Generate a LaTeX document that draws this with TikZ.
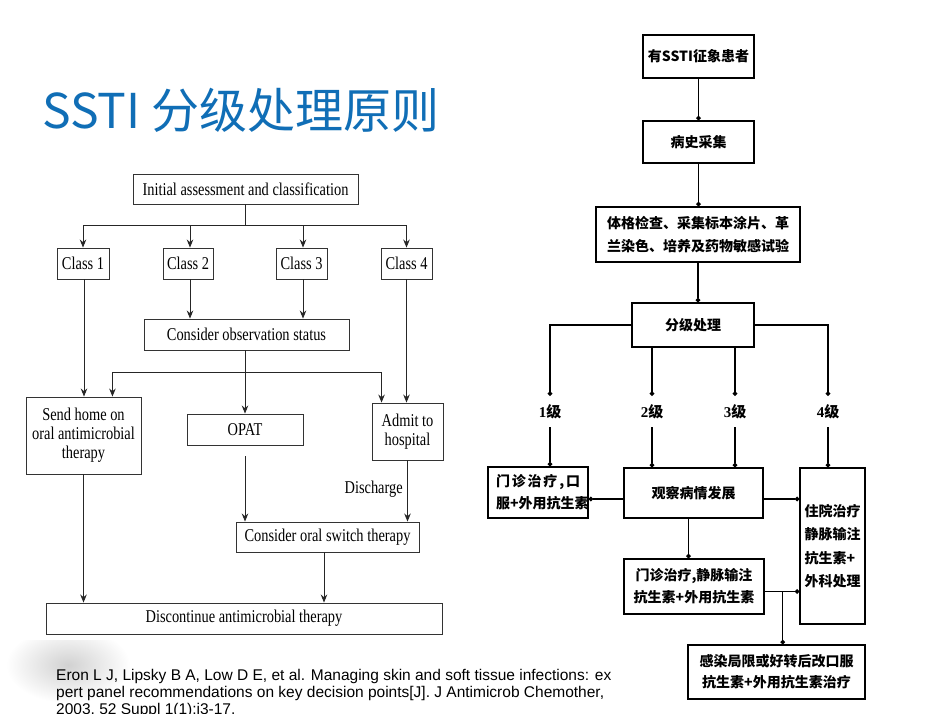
\documentclass[tikz,border=0pt]{standalone}
\usepackage{fontspec}
\setmainfont{Liberation Serif}
\newfontfamily\cjk{Noto Sans CJK SC}
\newfontfamily\cond{Liberation Serif}[FakeStretch=0.8]
\newfontfamily\arial{Liberation Sans}
\usetikzlibrary{arrows.meta}
\definecolor{titleblue}{RGB}{16,110,182}
\tikzset{
  lbox/.style={draw=black!80, line width=0.9pt, inner sep=0pt, align=center,
    font=\cond\fontsize{18}{19}\selectfont},
  rbox/.style={draw=black, line width=1.4pt, inner sep=0pt, align=center,
    font=\cjk\bfseries\fontsize{14}{23}\selectfont},
  larr/.style={draw=black!85, line width=0.9pt, -{Stealth[length=8pt,width=6.5pt]}},
  rarr/.style={draw=black, line width=1.3pt, -{Circle[length=4.5pt]}},
  lvl/.style={inner sep=0pt, minimum height=31pt, font=\bfseries\fontsize{15}{15}\selectfont},
  citetext/.style={anchor=base west, inner sep=0pt, font=\arial\fontsize{15.5}{17}\selectfont}
}
\begin{document}
\begin{tikzpicture}[x=1pt,y=-1pt]
\useasboundingbox (0,0) rectangle (950,713);
\fill[white] (0,0) rectangle (950,713);
\begin{scope}
\clip (0,640) rectangle (130,713);
\shade[inner color=black!18, outer color=white] (68,665) ellipse (62 and 38);
\end{scope}

% title
\node[anchor=base west, inner sep=0pt, text=titleblue, font=\cjk\fontsize{48}{48}\selectfont] (title) at (42,128) {SSTI 分级处理原则};

% ---------- left flowchart ----------
\node[lbox, minimum width=225, minimum height=30] (init) at (245.5,189) {Initial assessment and classification};
\node[lbox, minimum width=52, minimum height=31] (c1) at (83,263.5) {Class 1};
\node[lbox, minimum width=50, minimum height=31] (c2) at (188,263.5) {Class 2};
\node[lbox, minimum width=51, minimum height=31] (c3) at (301.5,263.5) {Class 3};
\node[lbox, minimum width=51, minimum height=31] (c4) at (406.5,263.5) {Class 4};
\node[lbox, minimum width=205, minimum height=31] (obs) at (246.5,334.5) {Consider observation status};
\node[lbox, minimum width=115, minimum height=77] (send) at (83.5,435.5) {Send home on\\oral antimicrobial\\therapy};
\node[lbox, minimum width=116, minimum height=31] (opat) at (245,429.5) {OPAT};
\node[lbox, minimum width=71, minimum height=57] (admit) at (407.5,431.5) {Admit to\\hospital};
\node[lbox, minimum width=183, minimum height=30] (oral) at (327.5,537) {Consider oral switch therapy};
\node[lbox, minimum width=396, minimum height=31] (disc) at (244,618.5) {Discontinue antimicrobial therapy};

\draw[larr] (init.south) -- ++(0,21) -| (c1.north);
\draw[larr] (init.south) -- ++(0,21) -| ([xshift=2pt]c2.north);
\draw[larr] (init.south) -- ++(0,21) -| ([xshift=1.5pt]c3.north);
\draw[larr] (init.south) -- ++(0,21) -| (c4.north);
\draw[larr] ([xshift=1pt]c1.south) -- ([xshift=1pt]c1.south |- send.north);
\draw[larr] ([xshift=2pt]c2.south) -- ([xshift=2pt]c2.south |- obs.north);
\draw[larr] ([xshift=1.5pt]c3.south) -- ([xshift=1.5pt]c3.south |- obs.north);
\draw[larr] (c4.south) -- (c4.south |- admit.north);
\draw[larr] ([xshift=-1.5pt]obs.south) -- ([xshift=-1.5pt]obs.south |- opat.north);
\draw[larr] ([xshift=-1.5pt]obs.south) -- ++(0,22) -| ([xshift=-29pt]send.north east);
\draw[larr] ([xshift=-1.5pt]obs.south) -- ++(0,22) -| ([xshift=10pt]admit.north west);
\draw[larr] (admit.south) -- node[pos=0.47, left=1pt, font=\cond\fontsize{18}{19}\selectfont] (dis) {Discharge} (admit.south |- oral.north);
\draw[larr, shorten <=11pt] (opat.south) -- (opat.south |- oral.north);
\draw[larr] ([xshift=-3.5pt]oral.south) -- ([xshift=-3.5pt]oral.south |- disc.north);
\draw[larr] (send.south) -- (send.south |- disc.north);

% ---------- right flowchart ----------
\node[rbox, minimum width=111, minimum height=43] (b1) at (698.5,56.5) {有SSTI征象患者};
\node[rbox, minimum width=111, minimum height=42] (b2) at (698.5,142) {病史采集};
\node[rbox, minimum width=204, minimum height=55] (b3) at (698,234.5) {体格检查、采集标本涂片、革\\兰染色、培养及药物敏感试验};
\node[rbox, minimum width=122, minimum height=44] (b4) at (693,325) {分级处理};

\node[lvl] (l1) at (550,411.5) {1\cjk 级};
\node[lvl] (l2) at (652,411.5) {2\cjk 级};
\node[lvl] (l3) at (735,411.5) {3\cjk 级};
\node[lvl] (l4) at (828,411.5) {4\cjk 级};

\node[rbox, minimum width=100, minimum height=51, font=\cjk\bfseries\fontsize{14}{22}\selectfont] (g1) at (538,492.5)
  {\makebox[84pt][s]{门\hfil 诊\hfil 治\hfil 疗\hfil ,\hfil 口}\\\makebox[84pt][s]{服+外用抗生素}};
\node[rbox, minimum width=139, minimum height=50] (obs2) at (693.5,493) {观察病情发展};
\node[rbox, minimum width=65, minimum height=156, align=left, font=\cjk\bfseries\fontsize{14}{23.5}\selectfont] (g4) at (832.5,546) {住院治疗\\静脉输注\\抗生素+\\外科处理};
\node[rbox, minimum width=140, minimum height=55, font=\cjk\bfseries\fontsize{14}{22}\selectfont] (b5) at (694,586.5) {门诊治疗,静脉输注\\抗生素+外用抗生素};
\node[rbox, minimum width=177, minimum height=54, font=\cjk\bfseries\fontsize{14}{21}\selectfont] (b6) at (776.5,672) {感染局限或好转后改口服\\抗生素+外用抗生素治疗};

\draw[rarr] (b1.south) -- (b2.north);
\draw[rarr] (b2.south) -- (b2.south |- b3.north);
\draw[rarr] (b3.south) -- (b3.south |- b4.north);
\draw[rarr] (b4.west) -| (l1.north);
\draw[rarr] (l2.north |- b4.south) -- (l2.north);
\draw[rarr] (l3.north |- b4.south) -- (l3.north);
\draw[rarr] (b4.east) -| (l4.north);
\draw[rarr] (l1.south) -- (l1.south |- g1.north);
\draw[rarr] (l2.south) -- (l2.south |- obs2.north);
\draw[rarr] (l3.south) -- (l3.south |- obs2.north);
\draw[rarr] (l4.south) -- (l4.south |- g4.north);
\draw[rarr] ([yshift=-6pt]obs2.west) -- ([yshift=-6pt]obs2.west -| g1.east);
\draw[rarr] ([yshift=-6pt]obs2.east) -- ([yshift=-6pt]obs2.east -| g4.west);
\draw[rarr] ([xshift=-5pt]obs2.south) -- ([xshift=-5pt]obs2.south |- b5.north);
\draw[rarr] ([yshift=-5pt]b5.east) -- ([yshift=-5pt]b5.east -| g4.west);
\draw[rarr] ([xshift=18pt,yshift=-5pt]b5.east) -- ([xshift=18pt]b5.east |- b6.north);

% citation
\node[citetext] (cite1) at (56,680) {Eron L J, Lipsky B A, Low D E, et al. Managing skin and soft tissue infections: ex};
\node[citetext] (cite2) at (56,697) {pert panel recommendations on key decision points[J]. J Antimicrob Chemother,};
\node[citetext] (cite3) at (56,714) {2003, 52 Suppl 1(1):i3-17.};
\end{tikzpicture}
\end{document}
